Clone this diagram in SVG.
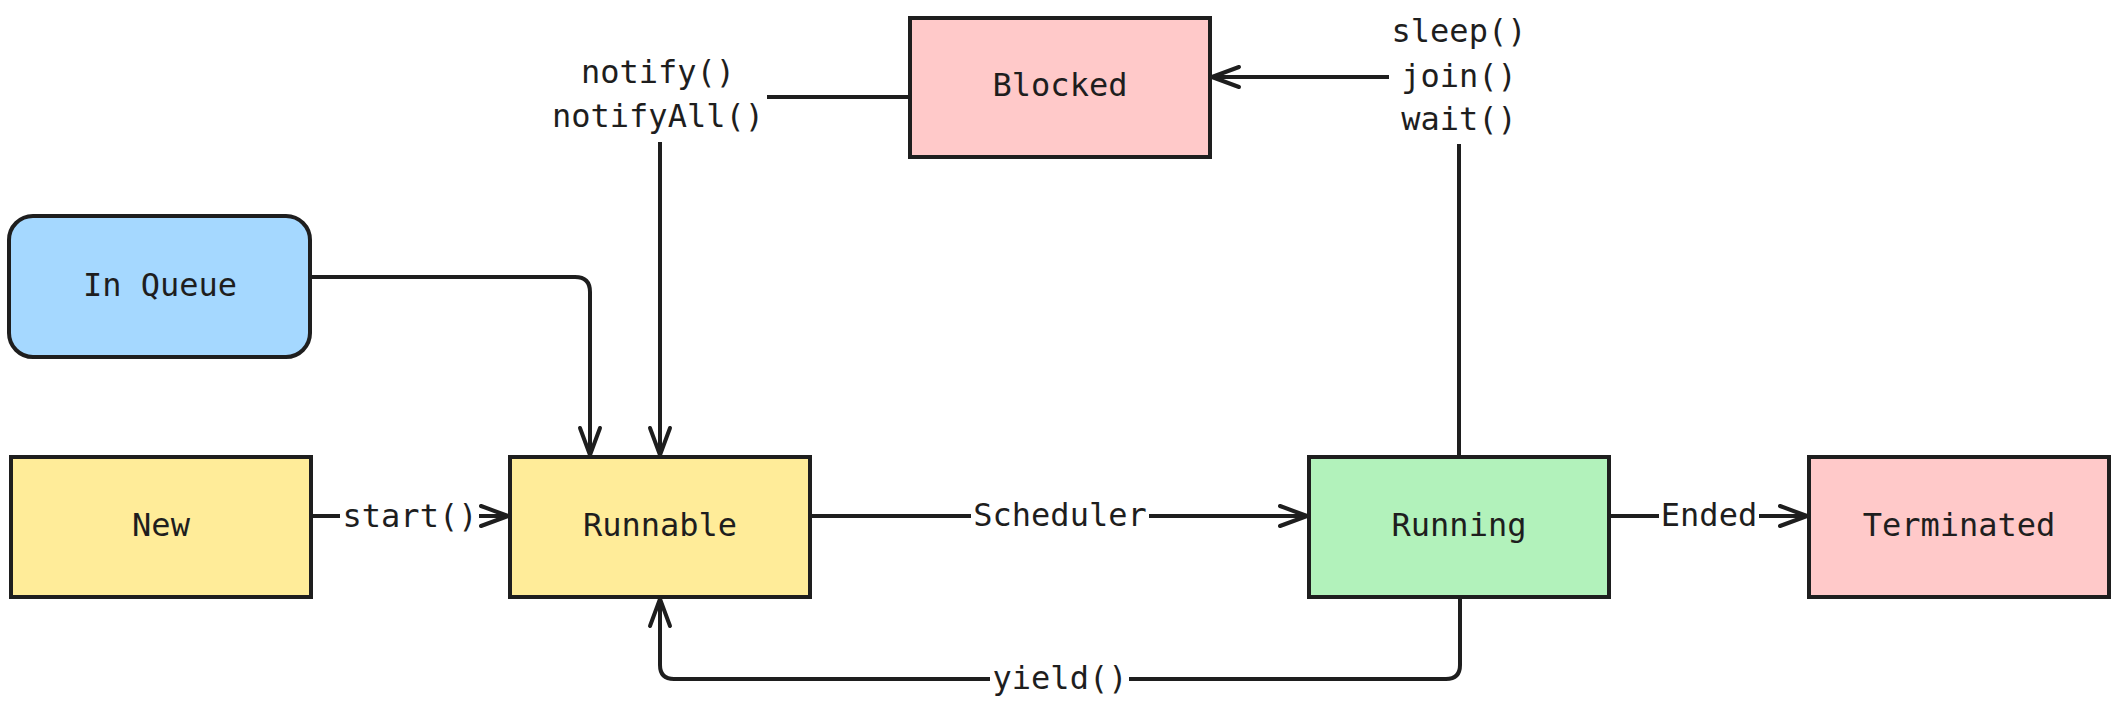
<svg xmlns="http://www.w3.org/2000/svg" width="2120" height="710" viewBox="0 0 2120 710">
<style>
.box{stroke:#1e1e1e;stroke-width:4}
.t{font-family:"DejaVu Sans Mono","Liberation Mono",monospace;font-size:32px;fill:#1e1e1e;text-anchor:middle}
.e{fill:none;stroke:#1e1e1e;stroke-width:4}
.bg{fill:#ffffff}
</style>
<defs>
<marker id="arr" markerUnits="userSpaceOnUse" markerWidth="34" markerHeight="26" viewBox="0 0 34 26" refX="30" refY="13" orient="auto">
<path d="M3,3 L30,13 L3,23" fill="none" stroke="#1e1e1e" stroke-width="4" stroke-linecap="round" stroke-linejoin="round"/>
</marker>
</defs>
<rect width="2120" height="710" fill="#ffffff"/>
<g id="connectors">
<path class="e" d="M311,277 H575 Q590,277 590,292 V455" marker-end="url(#arr)"/>
<path class="e" d="M910,97 H660 V455" marker-end="url(#arr)"/>
<path class="e" d="M1459,457 V77 H1212" marker-end="url(#arr)"/>
<path class="e" d="M311,516 H508" marker-end="url(#arr)"/>
<path class="e" d="M810,516 H1307" marker-end="url(#arr)"/>
<path class="e" d="M1609,516 H1807" marker-end="url(#arr)"/>
<path class="e" d="M1460,597 V665 Q1460,679 1446,679 H674 Q660,679 660,665 V599" marker-end="url(#arr)"/>
<rect class="bg" x="550" y="55" width="217" height="87"/>
<text class="t" x="658" y="83">notify()</text>
<text class="t" x="658" y="127">notifyAll()</text>
<rect class="bg" x="1389" y="12" width="141" height="132"/>
<text class="t" x="1459" y="42">sleep()</text>
<text class="t" x="1459" y="87">join()</text>
<text class="t" x="1459" y="130">wait()</text>
<rect class="bg" x="340" y="496" width="139" height="40"/>
<text class="t" x="410" y="527">start()</text>
<rect class="bg" x="971" y="496" width="178" height="40"/>
<text class="t" x="1060" y="526">Scheduler</text>
<rect class="bg" x="1659" y="496" width="100" height="40"/>
<text class="t" x="1709" y="526">Ended</text>
<rect class="bg" x="990" y="659" width="139" height="40"/>
<text class="t" x="1060" y="689">yield()</text>
</g>
<g id="inqueue">
<rect class="box" x="9" y="216" width="301" height="141" rx="24" fill="#a5d8ff"/>
<text class="t" x="160" y="296">In Queue</text>
</g>
<g id="new">
<rect class="box" x="11" y="457" width="300" height="140" fill="#ffec99"/>
<text class="t" x="161" y="536">New</text>
</g>
<g id="runnable">
<rect class="box" x="510" y="457" width="300" height="140" fill="#ffec99"/>
<text class="t" x="660" y="536">Runnable</text>
</g>
<g id="running">
<rect class="box" x="1309" y="457" width="300" height="140" fill="#b2f2bb"/>
<text class="t" x="1459" y="536">Running</text>
</g>
<g id="terminated">
<rect class="box" x="1809" y="457" width="300" height="140" fill="#ffc9c9"/>
<text class="t" x="1959" y="536">Terminated</text>
</g>
<g id="blocked">
<rect class="box" x="910" y="18" width="300" height="139" fill="#ffc9c9"/>
<text class="t" x="1060" y="96">Blocked</text>
</g>
</svg>
